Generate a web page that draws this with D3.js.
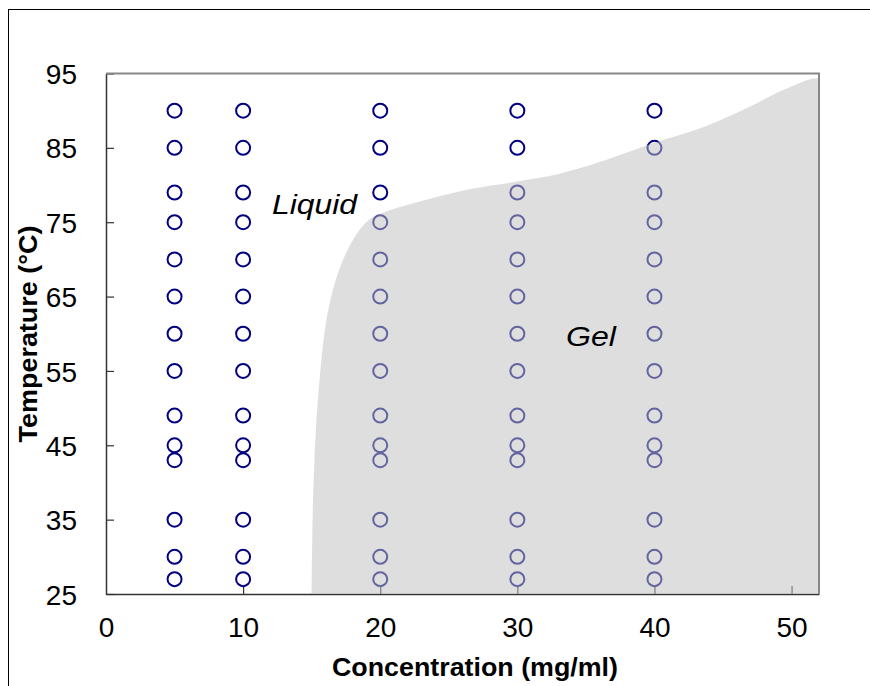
<!DOCTYPE html>
<html>
<head>
<meta charset="utf-8">
<script src="https://cdn.jsdelivr.net/npm/d3@7"></script>
<style>
  body { margin: 0; background: #fff; }
  svg { display: block; font-family: "Liberation Sans", Arial, sans-serif; }
</style>
</head>
<body>
<svg id="chart" width="870" height="686"></svg>
<script>
// sampled concentrations (mg/ml) and temperatures (°C)
var concentrations = [5, 10, 20, 30, 40];
var temperatures = [27, 30, 35, 43, 45, 49, 55, 60, 65, 70, 75, 79, 85, 90];

// gel boundary
var boundaryConc = [15, 15.1, 15.45, 16.3, 17.6, 19.1, 20.7, 23.1, 26.7, 30.4, 33, 36, 40, 43.3, 46.9, 49.3, 51.3, 52];
var boundaryTemp = [25, 37.6, 51, 64, 71.2, 75.2, 76.6, 77.9, 79.5, 80.6, 81.5, 83.1, 85.7, 87.6, 90.5, 92.7, 94.2, 94.4];

var xTicks = [0, 10, 20, 30, 40, 50];
var yTicks = [25, 35, 45, 55, 65, 75, 85, 95];

var margin = {top: 73.5, right: 51, bottom: 92, left: 106};
var width = 870 - margin.left - margin.right,
    height = 686 - margin.top - margin.bottom;

var svg = d3.select('#chart');

// outer frame (runs off the right and bottom of the window)
svg.append('rect')
    .attr('x', 8.5).attr('y', 9.5)
    .attr('width', 900).attr('height', 700)
    .attr('fill', 'none').attr('stroke', '#000').attr('stroke-width', 1);

var g = svg.append('g')
    .attr('transform', 'translate(' + margin.left + ',' + margin.top + ')');

var x = d3.scaleLinear().domain([0, 52]).range([0, width]);
var y = d3.scaleLinear().domain([25, 95]).range([height, 0]);

// axes
var xAxis = g.append('g')
    .attr('transform', 'translate(0,' + height + ')')
    .call(d3.axisBottom(x).tickValues(xTicks).tickSizeInner(-8).tickSizeOuter(0).tickPadding(23));
var yAxis = g.append('g')
    .call(d3.axisLeft(y).tickValues(yTicks).tickSizeInner(-8).tickSizeOuter(0).tickPadding(29));

[xAxis, yAxis].forEach(function(a) {
  a.select('.domain').attr('stroke', '#333').attr('stroke-width', 1.5);
  a.selectAll('.tick line').attr('stroke', '#333').attr('stroke-width', 1.2);
  a.selectAll('.tick text')
      .attr('fill', '#000')
      .style('font-size', '28px')
      .style('font-family', '"Liberation Sans", Arial, sans-serif');
});
xAxis.selectAll('.tick').filter(function(d) { return d === 0; }).select('line').remove();
yAxis.selectAll('.tick text').attr('dy', '0.36em');

// data points
var points = [];
concentrations.forEach(function(c) {
  temperatures.forEach(function(t) { points.push({c: c, t: t}); });
});

g.selectAll('.dot')
    .data(points)
  .enter().append('circle')
    .attr('class', 'dot')
    .attr('cx', function(d) { return x(d.c); })
    .attr('cy', function(d) { return y(d.t); })
    .attr('r', 7)
    .attr('fill', 'none')
    .attr('stroke', '#000080')
    .attr('stroke-width', 2);

// gel region, semi transparent over the points
var boundary = boundaryConc.map(function(c, i) { return [c, boundaryTemp[i]]; });
var area = d3.area()
    .x(function(d) { return x(d[0]); })
    .y0(y(25))
    .y1(function(d) { return y(d[1]); })
    .curve(d3.curveCatmullRom.alpha(0.5));

g.append('path')
    .datum(boundary)
    .attr('d', area)
    .attr('fill', 'rgb(192,192,192)')
    .attr('fill-opacity', 0.52);

// top and right plot borders
g.append('path')
    .attr('d', 'M0,0H' + width + 'V' + height)
    .attr('fill', 'none')
    .attr('stroke', '#888')
    .attr('stroke-width', 2);

// region labels
g.append('text')
    .attr('x', 272 - margin.left).attr('y', 214 - margin.top)
    .attr('textLength', 85).attr('lengthAdjust', 'spacingAndGlyphs')
    .style('font-size', '28px').style('font-style', 'italic')
    .text('Liquid');
g.append('text')
    .attr('x', 566 - margin.left).attr('y', 346 - margin.top)
    .attr('textLength', 50).attr('lengthAdjust', 'spacingAndGlyphs')
    .style('font-size', '28px').style('font-style', 'italic')
    .text('Gel');

// axis titles
svg.append('text')
    .attr('x', 475).attr('y', 676)
    .attr('text-anchor', 'middle')
    .attr('textLength', 286).attr('lengthAdjust', 'spacingAndGlyphs')
    .style('font-size', '25px').style('font-weight', 'bold')
    .text('Concentration (mg/ml)');
svg.append('text')
    .attr('transform', 'translate(37,334) rotate(-90)')
    .attr('text-anchor', 'middle')
    .attr('textLength', 217).attr('lengthAdjust', 'spacingAndGlyphs')
    .style('font-size', '25px').style('font-weight', 'bold')
    .text('Temperature (°C)');
</script>
</body>
</html>
